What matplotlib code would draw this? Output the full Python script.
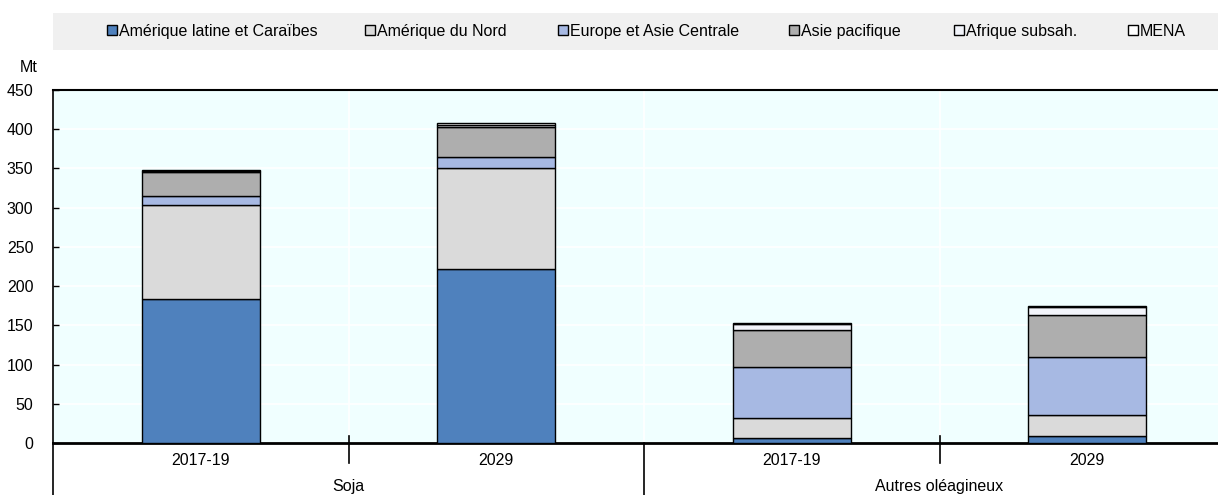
import matplotlib
matplotlib.use("Agg")
import matplotlib.pyplot as plt
import matplotlib.transforms as mtransforms
from matplotlib.patches import Rectangle
import numpy as np

plt.rcParams['font.family'] = ['Liberation Sans', 'DejaVu Sans']

periods = ["2017-19", "2029", "2017-19", "2029"]
groups = ["Soja", "Autres oléagineux"]
series_names = ["Amérique latine et Caraïbes", "Amérique du Nord", "Europe et Asie Centrale",
                "Asie pacifique", "Afrique subsah.", "MENA"]
latam = [183, 222, 6, 9]
north_am = [120, 128, 25.5, 27]
europe = [12, 15, 66, 74]
asia = [30, 38, 47, 53.5]
africa = [1.5, 2, 7, 9.5]
mena = [2, 2.5, 2, 1.5]
series = [latam, north_am, europe, asia, africa, mena]
colors = ["#4F81BD", "#DADADA", "#A7B9E3", "#AEAEAE", "#F2F4FA", "#FFFFFF"]
yticks = [0, 50, 100, 150, 200, 250, 300, 350, 400, 450]

FS = 11.5
W, H = 1218, 495
fig = plt.figure(figsize=(W / 100, H / 100), dpi=100)
ax = fig.add_axes([53 / W, (H - 443) / H, 1 - 53 / W, (443 - 90) / H])
ax.set_facecolor("#F0FFFF")

x = np.arange(len(periods))
bottom = np.zeros(len(periods))
handles = []
for name, vals, c in zip(series_names, series, colors):
    b = ax.bar(x, vals, 0.4, bottom=bottom, color=c, edgecolor="black", linewidth=1.0,
               label=name, zorder=3)
    handles.append(b)
    bottom += np.array(vals)

ax.set_ylim(0, 450)
ax.set_xlim(-0.5, -0.5 + (W - 53) / 295.5)
ax.set_yticks(yticks)
ax.set_yticklabels([str(v) for v in yticks], fontsize=FS)
ax.tick_params(axis='y', direction='in', length=4, width=1, pad=14)
ax.yaxis.grid(True, color="white", linewidth=1.2, zorder=0)
ax.set_axisbelow(True)

ax.set_xticks(x)
ax.set_xticklabels(periods, fontsize=FS)
ax.tick_params(axis='x', length=0, pad=7)

ax.spines["right"].set_visible(False)
ax.spines["top"].set_linewidth(1.5)
ax.spines["bottom"].set_linewidth(2)
ax.spines["left"].set_linewidth(1.2)

trans = mtransforms.blended_transform_factory(ax.transData, ax.transAxes)
ah = (443 - 90)
for sx in [0.5, 1.5, 2.5]:
    ax.axvline(sx, color="white", linewidth=1.2, zorder=0)
for sx in [0.5, 2.5]:
    ax.plot([sx, sx], [7 / ah, -20 / ah], transform=trans, color="black", lw=1.2, clip_on=False)
ax.plot([1.5, 1.5], [0, -52 / ah], transform=trans, color="black", lw=1.2, clip_on=False)
ax.plot([-0.5, -0.5], [0, -52 / ah], transform=trans, color="black", lw=1.2, clip_on=False)
for gi, g in enumerate(groups):
    ax.text(gi * 2 + 0.5, -44 / ah, g, transform=trans, ha="center", va="center", fontsize=FS)

fig.text(38 / W, (H - 68) / H, "Mt", ha="right", va="center", fontsize=FS)

fig.patches.append(Rectangle((53 / W, (H - 50) / H), 1 - 53 / W, 37 / H, transform=fig.transFigure,
                             facecolor="#F0F0F0", edgecolor="none", zorder=0))
legend_x = [107, 365, 558, 789, 954, 1128]
for h, name, lx in zip(handles, series_names, legend_x):
    fig.legend(handles=[h], labels=[name], loc="center left",
               bbox_to_anchor=(lx / W, (H - 31.5) / H), frameon=False, fontsize=FS,
               handlelength=0.6, handleheight=0.6, handletextpad=0.15,
               borderpad=0, borderaxespad=0)

fig.savefig("out.png", dpi=100)
